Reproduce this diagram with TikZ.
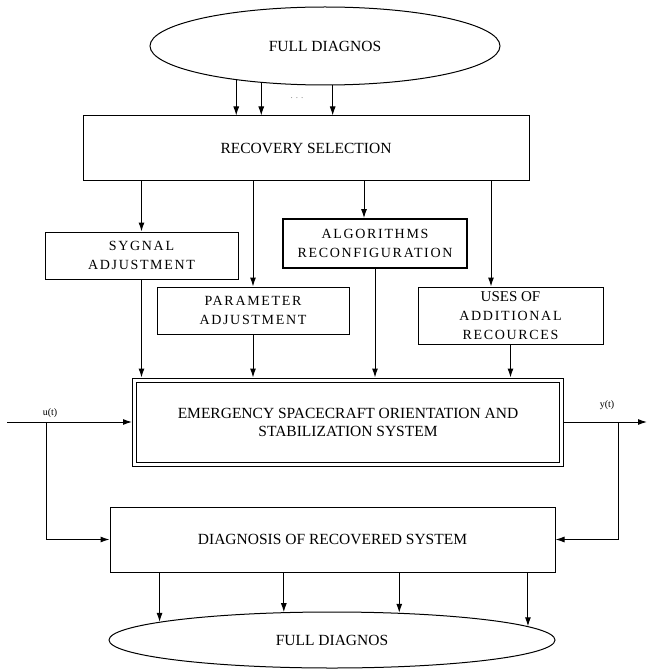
\documentclass[tikz,border=0pt]{standalone}
\usepackage{fontspec}
\setmainfont{Liberation Serif}
\newfontfamily\spaced[LetterSpace=12]{Liberation Serif}
\usetikzlibrary{shapes.geometric}
\usetikzlibrary{arrows.meta}

\begin{document}
\begin{tikzpicture}[x=1pt, y=-1pt,
    line width=1pt,
    font=\fontsize{15.5}{18}\selectfont,
    box/.style = {draw, rectangle, inner sep=0pt, align=center},
    oval/.style = {draw, ellipse, inner sep=0pt},
    sub/.style = {box, minimum height=47pt,
                font=\spaced\fontsize{14}{19}\selectfont},
    arr/.style = {-{Latex[length=9pt, width=6pt]}},
    sig/.style = {font=\fontsize{10}{12}\selectfont, inner sep=1pt}
                    ]
        \useasboundingbox (0,0) rectangle (648,671);
        % blocks
        \node[oval, minimum width=350pt, minimum height=78pt] (top) at (325,46) {FULL DIAGNOS};
        \node[box, minimum width=446pt, minimum height=64pt] (rec) at (306,148) {RECOVERY SELECTION};
        \node[sub, minimum width=193pt] (syg) at (141.5,255.5) {SYGNAL\\ADJUSTMENT};
        \node[sub, minimum width=192pt] (par) at (253,310.5) {PARAMETER\\ADJUSTMENT};
        \node[sub, minimum width=184pt, minimum height=49pt, line width=1.8pt] (alg) at (375,243.5) {ALGORITHMS\\RECONFIGURATION};
        \node[sub, minimum width=185pt, minimum height=57pt] (add) at (510.5,315.5)
            {{\rmfamily\fontsize{15}{18}\selectfont USES OF}\\ADDITIONAL\\RECOURCES};
        \node[box, minimum width=427pt, minimum height=84pt, double, double distance=3pt,
              outer sep=2.5pt] (sys) at (348,422)
            {EMERGENCY SPACECRAFT ORIENTATION AND\\STABILIZATION SYSTEM};
        \node[box, minimum width=445pt, minimum height=65pt] (diag) at (332.5,539.5) {DIAGNOSIS OF RECOVERED SYSTEM};
        \node[oval, minimum width=446pt, minimum height=56pt] (bot) at (332,640) {FULL DIAGNOS};
        % signals
        \coordinate (uin) at (7,422);
        \coordinate (ubr) at (46,422);
        \coordinate (yout) at (647,422);
        \coordinate (ybr) at (618,422);
        \node[sig] (ulab) at (50,413) {u(t)};
        \node[sig] (ylab) at (607,405) {y(t)};
        \node[font=\fontsize{9}{9}\selectfont, text=gray] (dots) at (297,98) {. . .};
        % connectors
        \foreach \a in {201, 210, 281.6}
            \draw[arr] (top.\a) -- (top.\a |- rec.north);
        \draw[arr] (syg.north |- rec.south) -- (syg.north);
        \draw[arr] (par.north |- rec.south) -- (par.north);
        \draw[arr] ([xshift=-11pt]alg.north |- rec.south) -- ([xshift=-11pt]alg.north);
        \draw[arr] ([xshift=-19.5pt]add.north |- rec.south) -- ([xshift=-19.5pt]add.north);
        \foreach \b in {syg, par, alg, add}
            \draw[arr] (\b.south) -- (\b.south |- sys.north);
        \draw[arr] (uin) -- (uin -| sys.west);
        \draw[arr] (sys.east |- yout) -- (yout);
        \draw[arr] (ubr) |- (diag.west);
        \draw[arr] (ybr) |- (diag.east);
        \foreach \c in {174.3, 150.4, 22.7, 4.3}
            \draw[arr] (bot.\c |- diag.south) -- (bot.\c);
    \end{tikzpicture}
\end{document}
